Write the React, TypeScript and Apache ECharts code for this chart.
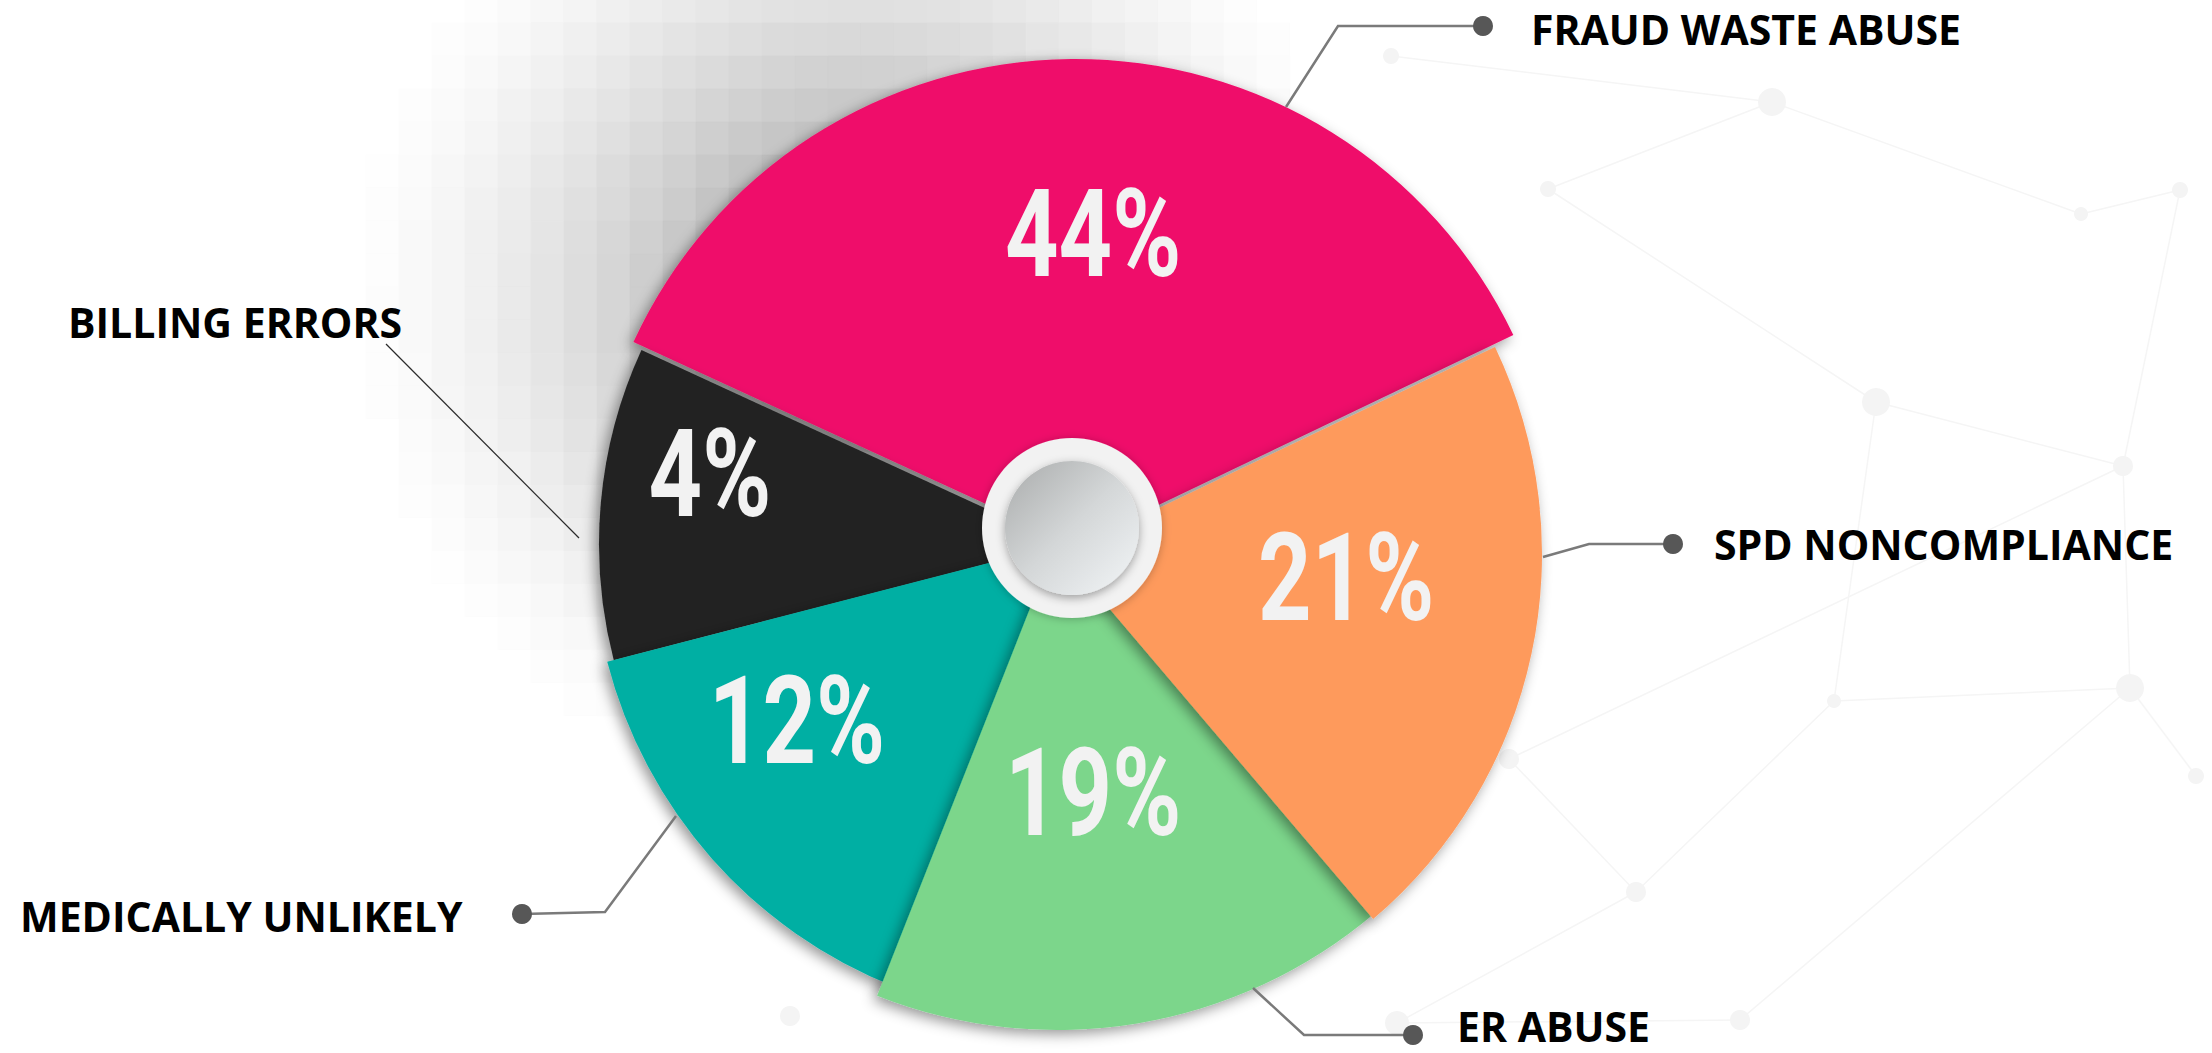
import React, { useEffect, useRef } from "react";
import * as echarts from "echarts";

// ---- data ----
const categories = ["FRAUD WASTE ABUSE", "SPD NONCOMPLIANCE", "ER ABUSE", "MEDICALLY UNLIKELY", "BILLING ERRORS"];
const percentLabels = ["44%", "21%", "19%", "12%", "4%"];
// angular share of each wedge as drawn in the reference (degrees / 3.6)
const sliceShares = [36.03, 20.9, 17.19, 14.99, 10.89];

// ---- style / layout ----
const sliceColors = ["#EF106A", "#FE9A5C", "#7BD68B", "#00AFA3", "#232323"];
const sliceCenters = [[1075, 545], [1063, 554], [1057, 540], [1070, 542], [1063, 544]];
const sliceRadii = [486, 479, 490, 478, 464];
const drawOrder = [0, 4, 3, 2, 1];
const labelShift = [[20, -68], [49, -26], [-4, 12], [-94, 21], [-122, -49]];
const startAngle = 155.3;

const hub = { x: 1072, y: 528, outer: 90, inner: 67 };

// callout layout: text anchor, dot and leader polyline
const callouts = [
  { text: categories[0], tx: 1531, ty: 29, dot: [1483, 26], line: [[1483, 26], [1338, 26], [1286, 107]] },
  { text: categories[1], tx: 1714, ty: 544, dot: [1673, 544], line: [[1673, 544], [1589, 544], [1543, 557]] },
  { text: categories[2], tx: 1457, ty: 1026, dot: [1413, 1035], line: [[1413, 1035], [1304, 1035], [1253, 988]] },
  { text: categories[3], tx: 20, ty: 916, dot: [522, 914], line: [[522, 914], [605, 912], [676, 816]] },
  { text: categories[4], tx: 68, ty: 322, dot: null, line: [[386, 344], [579, 538]] },
];

const netNodes = [
  [1772, 102, 14], [2081, 214, 7], [2180, 190, 8], [2123, 466, 10], [1876, 402, 14], [2130, 688, 14],
  [2196, 776, 8], [1834, 701, 7], [1636, 892, 10], [1509, 759, 10], [1397, 1023, 12], [790, 1016, 10],
  [1548, 189, 8], [1391, 56, 8], [1740, 1020, 10],
];
const netLinks = [
  [0, 1], [1, 2], [0, 13], [0, 12], [4, 3], [4, 12], [3, 5], [5, 6], [5, 7], [7, 4], [7, 8], [8, 9],
  [8, 10], [9, 3], [2, 3], [10, 14], [14, 5],
];

function buildMosaic() {
  const out: any[] = [];
  const size = 33;
  for (let x = 300; x < 1260; x += size) {
    for (let y = -10; y < 800; y += size) {
      const cx = x + size / 2;
      const cy = y + size / 2;
      const d = Math.hypot(cx - 860, cy - 300);
      const t = Math.max(0, 1 - d / 520);
      const a = 0.75 * Math.pow(t, 1.5);
      if (a > 0.008) {
        const g = Math.round(255 - a * 145);
        out.push({
          type: "rect",
          z: 0,
          silent: true,
          shape: { x, y, width: size, height: size },
          style: { fill: `rgb(${g},${g},${g})`, stroke: `rgb(${g},${g},${g})`, lineWidth: 0.6 },
        });
      }
    }
  }
  return out;
}

const pctFont = { family: "Roboto, 'Noto Sans', sans-serif", size: 123, scaleX: 0.76 };

export default function App() {
  const ref = useRef<HTMLDivElement>(null);
  useEffect(() => {
    if (!ref.current) return;
    const chart = echarts.init(ref.current, undefined, { renderer: "svg" });

    const makeSeries = (useLabels: boolean) =>
      drawOrder.map((i) => ({
        type: "pie",
        name: categories[i],
        center: sliceCenters[i],
        radius: [0, sliceRadii[i]],
        startAngle,
        clockwise: true,
        avoidLabelOverlap: false,
        silent: true,
        emphasis: { disabled: true },
        z: 2,
        labelLine: { show: false },
        labelLayout: { dx: labelShift[i][0], dy: labelShift[i][1] },
        data: sliceShares.map((v, j) => ({
          value: v,
          name: categories[j],
          itemStyle:
            j === i
              ? {
                  color: sliceColors[j],
                  shadowBlur: 14,
                  shadowOffsetX: -4,
                  shadowOffsetY: 4,
                  shadowColor: "rgba(0,0,0,0.42)",
                }
              : { color: "transparent", shadowBlur: 0 },
          label: {
            show: useLabels && j === i,
            position: "inside",
            formatter: () => percentLabels[j],
            color: "#F2F2F2",
            fontFamily: pctFont.family,
            fontWeight: "bold",
            fontSize: 100,
          },
        })),
      }));

    const graphics: any[] = [
      { type: "rect", z: -1, silent: true, shape: { x: 0, y: 0, width: 2212, height: 1053 }, style: { fill: "#ffffff" } },
      ...buildMosaic(),
      ...netLinks.map(([a, b]) => ({
        type: "line",
        z: 0,
        silent: true,
        shape: { x1: netNodes[a][0], y1: netNodes[a][1], x2: netNodes[b][0], y2: netNodes[b][1] },
        style: { stroke: "#f5f5f5", lineWidth: 1.5 },
      })),
      ...netNodes.map(([x, y, r]) => ({
        type: "circle",
        z: 0,
        silent: true,
        shape: { cx: x, cy: y, r },
        style: { fill: "#f4f4f4" },
      })),
      // hub
      {
        type: "circle",
        z: 100,
        shape: { cx: hub.x, cy: hub.y, r: hub.outer },
        style: { fill: "#F2F2F2", shadowBlur: 8, shadowColor: "rgba(0,0,0,0.25)", shadowOffsetY: 1 },
      },
      {
        type: "circle",
        z: 101,
        shape: { cx: hub.x, cy: hub.y, r: hub.inner },
        style: {
          fill: new echarts.graphic.LinearGradient(0, 0, 1, 1, [
            { offset: 0, color: "#A9ABAB" },
            { offset: 0.5, color: "#D4D7D8" },
            { offset: 1, color: "#F3F6F8" },
          ]),
          shadowBlur: 10,
          shadowColor: "rgba(0,0,0,0.35)",
          shadowOffsetY: 3,
        },
      },
    ];

    callouts.forEach((c) => {
      const isThin = !c.dot;
      graphics.push({
        type: "polyline",
        z: 50,
        silent: true,
        shape: { points: c.line },
        style: { stroke: isThin ? "#2a2a2a" : "#7a7a7a", lineWidth: isThin ? 1.2 : 2.5, fill: null },
      });
      if (c.dot) {
        graphics.push({
          type: "circle",
          z: 51,
          silent: true,
          shape: { cx: c.dot[0], cy: c.dot[1], r: 10 },
          style: { fill: "#575757" },
        });
      }
      graphics.push({
        type: "text",
        z: 52,
        silent: true,
        x: c.tx,
        y: c.ty,
        style: {
          text: c.text,
          fill: "#000000",
          font: "bold 41px 'Open Sans', 'Noto Sans', sans-serif",
          textAlign: "left",
          textVerticalAlign: "middle",
        },
      });
    });

    chart.setOption({ animation: false, backgroundColor: "#ffffff", series: makeSeries(false) });

    // place the percentage texts at the library's own wedge layout (mid-angle, half radius)
    let pctTexts: any[] = [];
    try {
      const model: any = (chart as any).getModel();
      pctTexts = drawOrder.map((i, s) => {
        const data = model.getSeriesByIndex(s).getData();
        const lay = data.getItemLayout(i);
        const mid = (lay.startAngle + lay.endAngle) / 2;
        const rr = (lay.r + (lay.r0 || 0)) / 2;
        return {
          type: "text",
          z: 60,
          silent: true,
          x: lay.cx + rr * Math.cos(mid) + labelShift[i][0],
          y: lay.cy + rr * Math.sin(mid) + labelShift[i][1],
          scaleX: pctFont.scaleX,
          style: {
            text: percentLabels[i],
            fill: "#F2F2F2",
            font: `bold ${pctFont.size}px ${pctFont.family}`,
            textAlign: "center",
            textVerticalAlign: "middle",
          },
        };
      });
    } catch (e) {
      pctTexts = [];
    }

    if (pctTexts.length) {
      chart.setOption({ graphic: { elements: [...graphics, ...pctTexts] } });
    } else {
      chart.setOption({ series: makeSeries(true), graphic: { elements: graphics } });
    }
    return () => chart.dispose();
  }, []);
  return <div ref={ref} style={{ position: "fixed", left: 0, top: 0, width: 2212, height: 1053 }} />;
}
